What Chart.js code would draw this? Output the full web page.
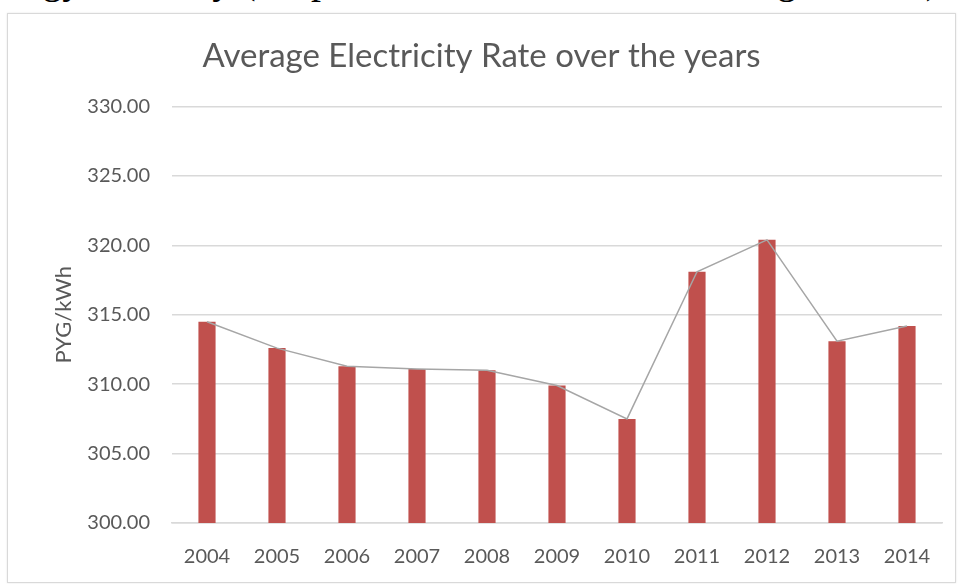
<!DOCTYPE html>
<html>
<head>
<meta charset="utf-8">
<script src="https://cdn.jsdelivr.net/npm/chart.js@4"></script>
<style>
  body { margin: 0; width: 961px; height: 584px; overflow: hidden; background: #fff; position: relative; }
  #caption { position: absolute; right: 22px; top: -40px; white-space: nowrap; line-height: 40px; z-index: 2;
             font-family: "Liberation Serif", "DejaVu Serif", serif; font-size: 40px; color: #000; }
  #frame { position: absolute; left: 7px; top: 13px; width: 947px; height: 568px; z-index: 1;
           border: 1px solid #d9d9d9; background: #fff; box-shadow: 0 0 2px #e6e6e6; }
</style>
</head>
<body>
<div id="caption">Energy Intensity (adapted from Ministerio de Energía, 2015)</div>
<div id="frame"><canvas id="rate-chart" width="947" height="568"></canvas></div>
<script>
/************/
/*** DATA ***/
/************/

const years = ['2004', '2005', '2006', '2007', '2008', '2009', '2010', '2011', '2012', '2013', '2014'];
const rates = [314.5, 312.6, 311.3, 311.1, 311.0, 309.9, 307.5, 318.1, 320.4, 313.1, 314.2];
const yTicks = [300, 305, 310, 315, 320, 325, 330];

/****************/
/*** Plotting ***/
/****************/

const fontFam = 'Lato, "Open Sans", sans-serif';
const ctx = document.getElementById('rate-chart');

const chart = new Chart(ctx, {
    data: {
        labels: years,
        datasets: [
            // grey trend line joining the bar tops (drawn on top of the bars)
            {type: 'line', label: 'Trend', data: rates, borderColor: '#a6a6a6', borderWidth: 1.5,
             pointRadius: 0, tension: 0},
            {type: 'bar', label: 'PYG/kWh', data: rates, backgroundColor: '#c0504d',
             barPercentage: 0.245, categoryPercentage: 1}
        ]
    },
    options: {
        responsive: false,
        animation: false,
        layout: {padding: {left: 13, right: 13, top: 0, bottom: 0}},
        plugins: {
            legend: {display: false},
            tooltip: {enabled: false},
            title: {display: true, text: 'Average Electricity Rate over the years', color: '#595959',
                    font: {family: fontFam, size: 33, weight: 'normal'}, padding: {top: 23, bottom: 30}}
        },
        scales: {
            x: {
                grid: {display: false},
                border: {color: '#d9d9d9', width: 1.5},
                ticks: {color: '#595959', font: {family: fontFam, size: 20}, padding: 14},
                afterFit: (scale) => { scale.height = 59; }
            },
            y: {
                min: yTicks[0], max: yTicks[yTicks.length - 1],
                afterBuildTicks: (scale) => { scale.ticks = yTicks.map(v => ({value: v})); },
                grid: {color: '#d9d9d9', lineWidth: 1.5, drawTicks: false},
                border: {display: false},
                ticks: {color: '#595959', font: {family: fontFam, size: 20}, padding: 22,
                        callback: (v) => Number(v).toFixed(2)},
                title: {display: true, text: 'PYG/kWh', color: '#595959',
                        font: {family: fontFam, size: 22}, padding: {top: 30, bottom: 0}},
                afterFit: (scale) => { scale.width = 151; }
            }
        }
    }
});
</script>
</body>
</html>
